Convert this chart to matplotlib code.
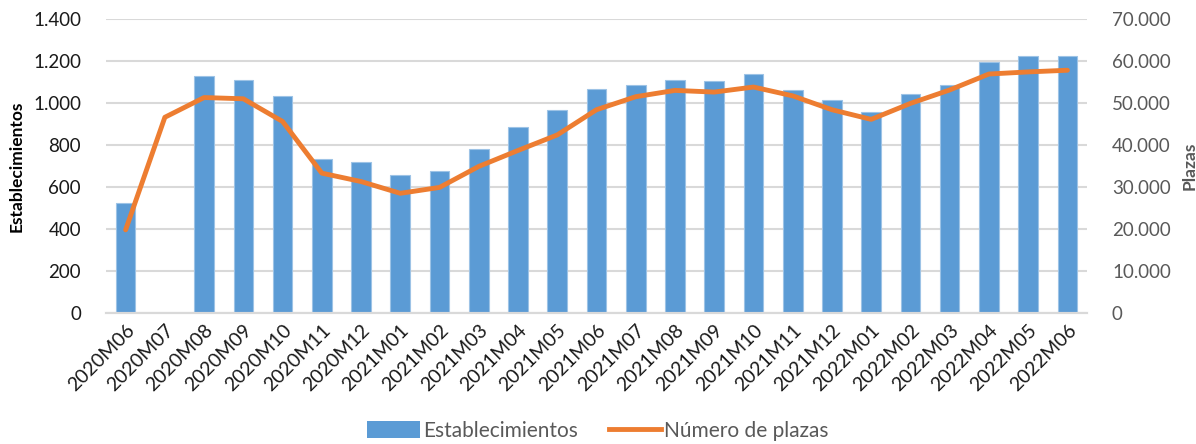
import matplotlib.pyplot as plt
import numpy as np
from matplotlib.ticker import FuncFormatter, MultipleLocator
from matplotlib.patches import Patch
from matplotlib.lines import Line2D

MONTHS = [
    "2020M06", "2020M07", "2020M08", "2020M09", "2020M10", "2020M11", "2020M12",
    "2021M01", "2021M02", "2021M03", "2021M04", "2021M05", "2021M06", "2021M07",
    "2021M08", "2021M09", "2021M10", "2021M11", "2021M12", "2022M01", "2022M02",
    "2022M03", "2022M04", "2022M05", "2022M06",
]

# Establecimientos (left axis); 2020M07 has no bar
ESTABLECIMIENTOS = [
    523, np.nan, 1130, 1108, 1035, 733, 720,
    658, 675, 783, 885, 969, 1066, 1088,
    1108, 1107, 1139, 1061, 1013, 956, 1042,
    1088, 1196, 1226, 1223,
]

# Número de plazas (right axis)
PLAZAS = [
    19800, 46600, 51300, 51000, 45600, 33300, 31300,
    28500, 29900, 34900, 38700, 42400, 48400, 51500,
    53000, 52600, 53800, 51700, 48400, 46100, 49900,
    53100, 56900, 57400, 57800,
]

BAR_COLOR = "#5B9BD5"
LINE_COLOR = "#ED7D31"
GRID_COLOR = "#D9D9D9"
GRAY_TEXT = "#595959"

plt.rcParams["font.family"] = ["Lato", "DejaVu Sans"]


def dot_thousands(v, _pos):
    return f"{int(round(v)):,}".replace(",", ".")


fig = plt.figure(figsize=(11.96, 4.44), dpi=100)
ax = fig.add_axes([106 / 1196, 1 - 313 / 444, (1087 - 106) / 1196, (313 - 19) / 444])
ax2 = ax.twinx()

x = np.arange(len(MONTHS))
ax.bar(x, ESTABLECIMIENTOS, width=0.5, color=BAR_COLOR, edgecolor="#9DC3E6",
       linewidth=0.8, zorder=2)
ax2.plot(x, PLAZAS, color=LINE_COLOR, lw=3.5, solid_capstyle="round",
         solid_joinstyle="round", zorder=3)

ax.set_xlim(-0.5, len(MONTHS) - 0.5)
ax.set_ylim(0, 1400)
ax2.set_ylim(0, 70000)
ax.yaxis.set_major_locator(MultipleLocator(200))
ax2.yaxis.set_major_locator(MultipleLocator(10000))
ax.yaxis.set_major_formatter(FuncFormatter(dot_thousands))
ax2.yaxis.set_major_formatter(FuncFormatter(dot_thousands))

ax.grid(axis="y", color=GRID_COLOR, lw=1.5, zorder=0)
ax.set_axisbelow(True)
for a in (ax, ax2):
    for side in ("top", "left", "right"):
        a.spines[side].set_visible(False)
    a.spines["bottom"].set_color(GRID_COLOR)
    a.spines["bottom"].set_linewidth(1.5)
    a.tick_params(length=0)

ax.set_xticks(x)
ax.set_xticklabels(MONTHS, rotation=45, ha="right", rotation_mode="anchor",
                   fontsize=14, color="#1a1a1a")
ax.tick_params(axis="x", pad=6)
ax.tick_params(axis="y", labelsize=13.5, colors="#1a1a1a", pad=18)
ax2.tick_params(axis="y", labelsize=13.5, colors=GRAY_TEXT, pad=18)

ax.set_ylabel("Establecimientos", fontsize=12.5, fontweight="bold", color="#000000",
              labelpad=6)
ax2.set_ylabel("Plazas", fontsize=12.5, fontweight="bold", color=GRAY_TEXT, labelpad=8)

handles = [
    Patch(facecolor=BAR_COLOR, edgecolor="none", label="Establecimientos"),
    Line2D([0], [0], color=LINE_COLOR, lw=3.5, label="Número de plazas"),
]
leg = fig.legend(handles=handles, loc="center", bbox_to_anchor=(0.5, 1 - 431 / 444),
                 ncol=2, frameon=False, fontsize=15, handlelength=2.5,
                 handleheight=0.9, handletextpad=0.15, columnspacing=1.5)
for t in leg.get_texts():
    t.set_color(GRAY_TEXT)

fig.savefig("out.png", dpi=100)
